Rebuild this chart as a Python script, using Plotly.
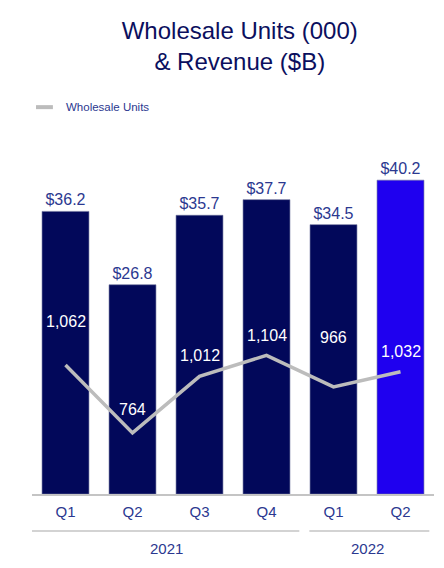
import plotly.graph_objects as go

quarters = ["Q1", "Q2", "Q3", "Q4", "Q1", "Q2"]
revenue = [36.2, 26.8, 35.7, 37.7, 34.5, 40.2]
units = [1062, 764, 1012, 1104, 966, 1032]
years = ["2021", "2022"]
year_spans = [(0, 3), (4, 5)]

x = list(range(len(quarters)))
bar_colors = ["#02085a"] * 5 + ["#1f00ef"]
label_shift = [43, 23, 21, 20, 49, 20]

FONT = "Liberation Sans, Arial, sans-serif"
TXT = "#2b3890"

fig = go.Figure()
fig.add_trace(go.Bar(
    x=x, y=revenue, marker=dict(color=bar_colors, line=dict(color="#6a6f9a", width=0.6)),
    text=[f"${v:.1f}" for v in revenue], textposition="outside", cliponaxis=False,
    textfont=dict(size=16, color=TXT, family=FONT), showlegend=False, hoverinfo="skip"))
fig.add_trace(go.Scatter(
    x=x, y=units, yaxis="y2", mode="lines", name="Wholesale Units",
    line=dict(color="#bcbcbc", width=3.5), showlegend=False))

for xi, v, s in zip(x, units, label_shift):
    fig.add_annotation(x=xi, y=v, yref="y2", text=f"{v:,}", showarrow=False,
                       yshift=s, font=dict(size=16, color="white", family=FONT))

# manual legend
fig.add_shape(type="line", xref="paper", yref="paper", x0=0.01, x1=0.052,
              y0=1.194, y1=1.194, line=dict(color="#bcbcbc", width=4))
fig.add_annotation(xref="paper", yref="paper", x=0.08, y=1.194, xanchor="left",
                   yanchor="middle", text="Wholesale Units", showarrow=False,
                   font=dict(size=11.5, color=TXT, family=FONT))

fig.update_layout(
    width=444, height=568, plot_bgcolor="white", paper_bgcolor="white",
    margin=dict(l=32, r=10, t=170, b=74),
    bargap=0.3,
    showlegend=False,
    title=dict(text="Wholesale Units (000)<br>& Revenue ($B)", x=0.54, xanchor="center",
               y=0.931, yanchor="top",
               font=dict(size=24, color="#0b0f5e", family=FONT)),
    xaxis=dict(tickvals=x, ticktext=quarters, range=[-0.5, 5.5], showgrid=False,
               showline=True, linecolor="#c4c4c4", linewidth=2,
               tickfont=dict(size=15, color=TXT, family=FONT), ticks="", ticklen=0,
               ticklabelstandoff=3),
    yaxis=dict(range=[0, 41.5], visible=False, showgrid=False),
    yaxis2=dict(range=[496, 1917], overlaying="y", visible=False, showgrid=False),
)

line_ends = [(-0.53, 3.49), (3.64, 5.43)]
for (a, b), (l0, l1), yr in zip(year_spans, line_ends, years):
    fig.add_shape(type="line", xref="x", yref="paper", x0=l0, x1=l1,
                  y0=-0.114, y1=-0.114, line=dict(color="#c4c4c4", width=1.5))
    fig.add_annotation(x=(a + b) / 2, xref="x", yref="paper", y=-0.167, yanchor="middle",
                       text=yr, showarrow=False, font=dict(size=15, color=TXT, family=FONT))

fig.write_html("out.html", config={"displayModeBar": False},
               post_script="document.body.style.margin='0';")
